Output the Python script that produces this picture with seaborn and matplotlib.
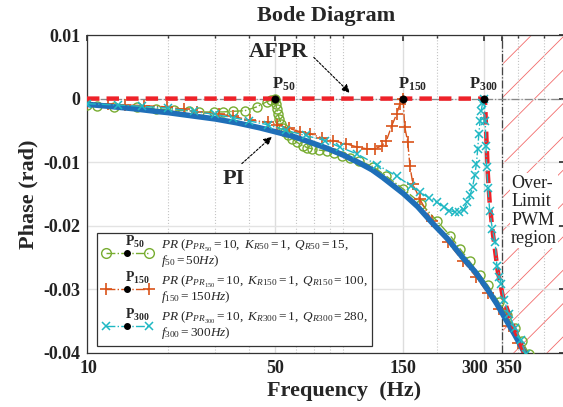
import numpy as np
import pandas as pd
import matplotlib.pyplot as plt
import matplotlib.transforms as mtransforms
from matplotlib.lines import Line2D
from matplotlib.legend_handler import HandlerLine2D, HandlerTuple
from matplotlib.ticker import FixedLocator, FixedFormatter, LogLocator, NullFormatter
import seaborn as sns

# colours (MATLAB-ish default order)
c_blue = '#1f6fb8'
c_red = '#ee2229'
c_green = '#77ac30'
c_orange = '#d95319'
c_cyan = '#1fb8c3'

# ---- data (frequency in Hz, phase in rad) ----
pi_f = [10, 12, 15, 18, 20, 23.5, 30, 36, 44, 50, 58, 65, 78, 90, 103, 115, 126, 150,
        170, 192, 220, 250, 280, 309, 335, 360, 390, 425]
pi_ph = [-0.0009, -0.0012, -0.0016, -0.0020, -0.0022, -0.0026, -0.0032, -0.0038, -0.0046,
         -0.0052, -0.0059, -0.0066, -0.0078, -0.0089, -0.0101, -0.0112, -0.0124, -0.0149,
         -0.0170, -0.0195, -0.0221, -0.0250, -0.0274, -0.0300, -0.0323, -0.0346, -0.0371,
         -0.0400]

afpr_f = [10, 50, 100, 200, 300, 303, 306, 310, 315, 322, 330, 337, 352, 375, 400, 425]
afpr_ph = [0.0, 0.0, 0.0, 0.0, 0.0, -0.0010, -0.0060, -0.0120, -0.0165, -0.0205, -0.0240,
           -0.0270, -0.0310, -0.0345, -0.0375, -0.0402]

pr50_f = [10, 10.9, 12.6, 15.3, 18, 21, 24, 26, 29.6, 32, 35, 38.7, 42.8, 46.6, 48.5, 50,
          50.4, 50.8, 51.3, 52, 52.8, 53.6, 54.4, 56, 58, 60.5, 63.5, 66, 69, 73, 78, 83, 89,
          95, 103, 116, 130, 150, 175, 200, 225, 244, 265, 290, 309, 340, 366, 390, 415, 440]
pr50_ph = [-0.0010, -0.0011, -0.0013, -0.0013, -0.0016, -0.0018, -0.0019, -0.0021, -0.0021,
           -0.0021, -0.0020, -0.0019, -0.0013, -0.0005, -0.0002, 0.0, -0.0008, -0.0016,
           -0.0024, -0.0032, -0.0040, -0.0047, -0.0052, -0.0058, -0.0063, -0.0069, -0.0074,
           -0.0077, -0.0079, -0.0081, -0.0082, -0.0086, -0.0090, -0.0094, -0.0098, -0.0107,
           -0.0122, -0.0142, -0.0165, -0.0192, -0.0216, -0.0236, -0.0256, -0.0278, -0.0293,
           -0.0320, -0.0341, -0.0361, -0.0381, -0.0401]

pr150_f = [10, 12, 13.8, 16.3, 19.8, 23, 25.6, 31, 35, 40.5, 47, 51, 56.6, 62, 67.5, 75, 82,
           92, 101, 110, 118, 125, 130, 136, 142, 146, 150, 152, 156, 159, 163, 173, 192, 220,
           250, 280, 310, 340, 370, 400, 430]
pr150_ph = [-0.0007, -0.0009, -0.0010, -0.0011, -0.0013, -0.0017, -0.0021, -0.0024, -0.0028,
            -0.0034, -0.0037, -0.0041, -0.0047, -0.0052, -0.0055, -0.0062, -0.0066, -0.0071,
            -0.0076, -0.0079, -0.0079, -0.0074, -0.0066, -0.0043, -0.0024, -0.0008, 0.0,
            -0.0044, -0.0068, -0.0106, -0.0134, -0.0158, -0.0192, -0.0226, -0.0255, -0.0280,
            -0.0306, -0.0331, -0.0358, -0.0384, -0.0410]

pr300_f = [10, 13, 16, 20, 25, 30, 35, 40, 47, 55, 65, 77, 87, 101, 120, 142, 160, 173, 187,
           200, 212, 223, 233, 243, 252, 260, 266, 272, 277, 281, 284, 287, 290, 293, 296, 300,
           303, 305, 307, 310, 315, 322, 330, 335, 342, 348, 356, 370, 390, 410, 430]
pr300_ph = [-0.0008, -0.0010, -0.0012, -0.0015, -0.0020, -0.0025, -0.0030, -0.0035, -0.0041,
            -0.0050, -0.0058, -0.0066, -0.0076, -0.0087, -0.0104, -0.0122, -0.0137, -0.0147,
            -0.0156, -0.0163, -0.0170, -0.0176, -0.0178, -0.0178, -0.0175, -0.0163, -0.0152,
            -0.0139, -0.0120, -0.0103, -0.0080, -0.0055, -0.0035, -0.0019, -0.0007, 0.0,
            -0.0035, -0.0075, -0.0107, -0.0140, -0.0177, -0.0205, -0.0226, -0.0264, -0.0280,
            -0.0292, -0.0316, -0.0338, -0.0360, -0.0380, -0.0402]

peak_f = [50, 150, 300]
peak_ph = [0.0, 0.0, 0.0]
peak_names = ['50', '150', '300']

x_ticks = [10, 50, 150, 300, 350]
y_ticks = [-0.04, -0.03, -0.02, -0.01, 0.0, 0.01]
y_ticklabels = ['-0.04', '-0.03', '-0.02', '-0.01', '0', '0.01']
limit_f = 350

sns.set_theme(style='white')
plt.rcParams['font.family'] = ['Liberation Serif', 'DejaVu Serif']
plt.rcParams['mathtext.fontset'] = 'custom'
plt.rcParams['mathtext.rm'] = 'Liberation Serif'
plt.rcParams['mathtext.it'] = 'Liberation Serif:italic'
plt.rcParams['mathtext.bf'] = 'Liberation Serif:bold'
plt.rcParams['hatch.linewidth'] = 0.6

fig = plt.figure(figsize=(5.63, 4.07), dpi=100)
ax = fig.add_axes([0.1545, 0.1327, 0.849, 0.7813])
ax.set_xscale('log')

# over-limit region
ax.axvspan(limit_f, 600, facecolor='none', edgecolor='#f26b6b', hatch='/', lw=0, zorder=0)
ax.axvline(limit_f, color='#444444', lw=0.9, ls='-.', zorder=1)
ax.axhline(0, color='#888888', lw=0.9, ls='-.', zorder=1)

# curves
sns.lineplot(x=pr50_f, y=pr50_ph, ax=ax, color=c_green, lw=1.0, linestyle='-.', marker='o',
             markersize=6.5, markerfacecolor='none', markeredgecolor=c_green,
             markeredgewidth=1.0, zorder=3)
sns.lineplot(x=pr150_f, y=pr150_ph, ax=ax, color=c_orange, lw=1.0, linestyle='-.', marker='+',
             markersize=8, markeredgecolor=c_orange, markeredgewidth=1.2, zorder=3)
sns.lineplot(x=pi_f, y=pi_ph, ax=ax, color=c_blue, lw=4.0, zorder=4)
sns.lineplot(x=afpr_f, y=afpr_ph, ax=ax, color=c_red, lw=3.2, linestyle=(0, (2.8, 1.6)),
             zorder=5)
sns.lineplot(x=pr300_f, y=pr300_ph, ax=ax, color=c_cyan, lw=1.0, linestyle='-.', marker='x',
             markersize=6, markeredgecolor=c_cyan, markeredgewidth=1.1, zorder=6)
sns.scatterplot(x=peak_f, y=peak_ph, ax=ax, color='black', s=28, edgecolor='black', zorder=7)

# peak labels
offsets = [-2, -4, -11]
for f, name, dx in zip(peak_f, peak_names, offsets):
    ax.annotate(r'$\mathbf{P_{%s}}$' % name, xy=(f, 0), xytext=(dx, 4),
                textcoords='offset points', ha='left', va='bottom', fontsize=12, zorder=8)

# text annotations
ax.annotate('AFPR', xy=(95, 0.0009), xytext=(51.7, 0.0073), fontsize=16, fontweight='bold',
            ha='center', va='center',
            arrowprops=dict(arrowstyle='-|>', color='black', lw=0.8, ls=(0, (2, 1.5)),
                            relpos=(1.0, 0.5), shrinkA=2, shrinkB=0, mutation_scale=12))
ax.annotate('PI', xy=(48.7, -0.006), xytext=(35.2, -0.0126), fontsize=16, fontweight='bold',
            ha='center', va='center',
            arrowprops=dict(arrowstyle='-|>', color='black', lw=0.8, ls=(0, (2, 1.5)),
                            relpos=(0.6, 1.0), shrinkA=2, shrinkB=0, mutation_scale=12))
ax.text(378, -0.0120, 'Over-\nLimit\nPWM\nregion', fontsize=13, ha='left', va='top',
        linespacing=1.1, color='#222222', zorder=2,
        bbox=dict(facecolor='white', edgecolor='none', pad=1))

# axes
ax.set_xlim(10, 600)
ax.set_ylim(-0.04, 0.01)
ax.xaxis.set_major_locator(FixedLocator(x_ticks))
ax.xaxis.set_major_formatter(FixedFormatter([str(v) for v in x_ticks]))
ax.xaxis.set_minor_locator(LogLocator(base=10, subs=np.arange(2, 10)))
ax.xaxis.set_minor_formatter(NullFormatter())
ax.yaxis.set_major_locator(FixedLocator(y_ticks))
ax.yaxis.set_major_formatter(FixedFormatter(y_ticklabels))

ax.grid(which='major', axis='y', color='#e3e3e3', lw=1.0, ls='-')
ax.grid(which='major', axis='x', color='#dddddd', lw=1.0, ls='-')
ax.grid(which='minor', axis='x', color='#c4c4c4', lw=0.8, ls=':')
ax.set_axisbelow(True)

ax.tick_params(which='both', direction='in', top=True, right=True, colors='#333333')
ax.tick_params(which='major', length=4, labelsize=13, pad=5)
ax.tick_params(which='minor', length=2.5)
for lab in ax.get_xticklabels() + ax.get_yticklabels():
    lab.set_fontweight('bold')
    lab.set_color('#222222')
# pull the crowded 300 / 350 labels apart
xlabs = ax.get_xticklabels()
for lab, dx in zip(xlabs, [1, 0, 0, -9, 7]):
    lab.set_transform(lab.get_transform() +
                      mtransforms.ScaledTranslation(dx / 100, 0, fig.dpi_scale_trans))
for s in ax.spines.values():
    s.set_color('#333333')
    s.set_linewidth(0.9)

ax.set_title('Bode Diagram', fontsize=16, fontweight='bold', pad=10)
ax.set_xlabel('Frequency  (Hz)', fontsize=16, fontweight='bold', labelpad=3, x=0.538)
ax.set_ylabel('Phase (rad)', fontsize=16, fontweight='bold', labelpad=3)

# legend: dash-dot line with markers at both ends, black resonance dot in the middle
dot = Line2D([], [], color='black', marker='o', ls='none', markersize=4)
h50 = Line2D([], [], color=c_green, lw=1.0, ls='-.', marker='o', markersize=7,
             markerfacecolor='none', markeredgecolor=c_green)
h150 = Line2D([], [], color=c_orange, lw=1.0, ls='-.', marker='+', markersize=9,
              markeredgewidth=1.2)
h300 = Line2D([], [], color=c_cyan, lw=1.0, ls='-.', marker='x', markersize=6,
              markeredgewidth=1.1)
labels = [
    r'$PR\ (P_{PR_{50}}=10,\ K_{R50}=1,\ Q_{R50}=15,$' + '\n' + r'$f_{50}=50Hz)$',
    r'$PR\ (P_{PR_{150}}=10,\ K_{R150}=1,\ Q_{R150}=100,$' + '\n' + r'$f_{150}=150Hz)$',
    r'$PR\ (P_{PR_{300}}=10,\ K_{R300}=1,\ Q_{R300}=280,$' + '\n' + r'$f_{300}=300Hz)$',
]
leg_fs = 9.5
hl, htp = 3.9, 0.6
leg = ax.legend(handles=[(h50, dot), (h150, dot), (h300, dot)], labels=labels,
                handler_map={tuple: HandlerTuple(ndivide=1, pad=0),
                             dot: HandlerLine2D(numpoints=1)},
                numpoints=2, loc='lower left', bbox_to_anchor=(0.021, 0.022),
                borderaxespad=0, fontsize=leg_fs, handlelength=hl, handletextpad=htp,
                labelspacing=0.35, borderpad=0.35, frameon=True, fancybox=False,
                framealpha=1, edgecolor='#333333')
for t in leg.get_texts():
    t.set_linespacing(0.95)
leg.get_frame().set_linewidth(0.9)
leg.set_zorder(10)

# P labels above the dots inside the legend
fig.canvas.draw()
renderer = fig.canvas.get_renderer()
W, H = fig.bbox.width, fig.bbox.height
px_per_pt = fig.dpi / 72.0
for txt, name in zip(leg.get_texts(), peak_names):
    bb = txt.get_window_extent(renderer)
    xc = bb.x0 - (htp + hl / 2) * leg_fs * px_per_pt
    yc = (bb.y0 + bb.y1) / 2
    fig.text((xc - 2) / W, (yc + 3) / H, r'$\mathbf{P_{%s}}$' % name, fontsize=10,
             ha='left', va='bottom', zorder=11)

fig.savefig('out.png', dpi=100)
